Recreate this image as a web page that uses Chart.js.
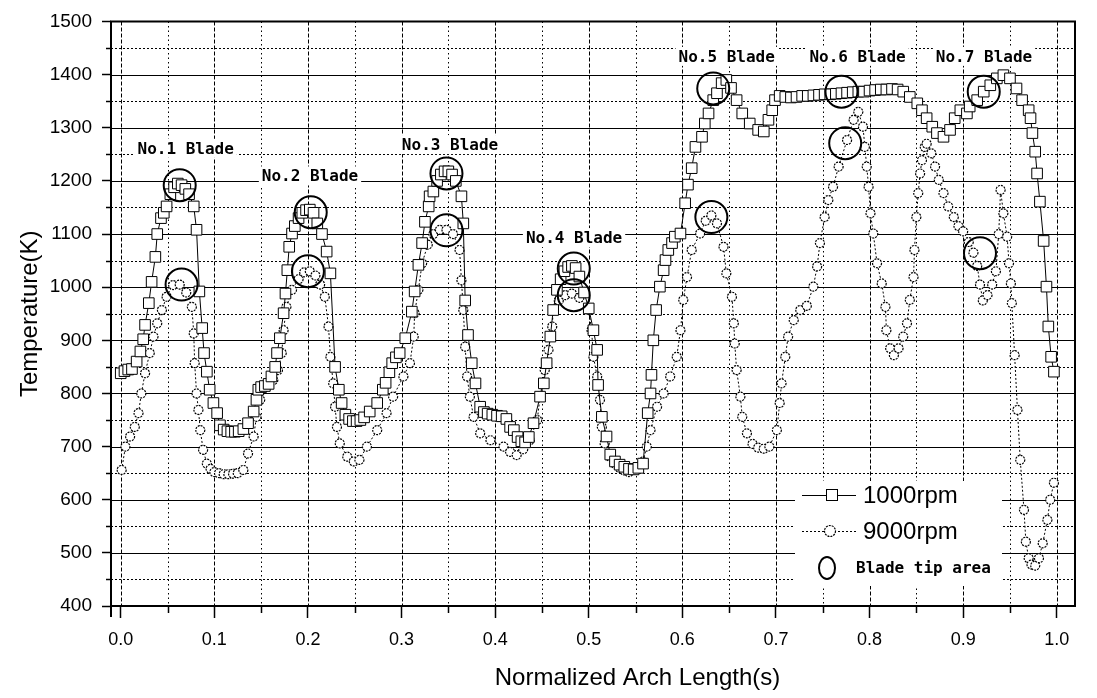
<!DOCTYPE html>
<html>
<head>
<meta charset="utf-8">
<title>Temperature along the blade arch</title>
<script src="https://cdn.jsdelivr.net/npm/chart.js@4.4.1/dist/chart.umd.min.js"></script>
<style>
  html, body { margin: 0; padding: 0; background: #fff; }
  #chart { display: block; }
</style>
</head>
<body>
<canvas id="chart" width="1097" height="698"></canvas>
<script>
// ========= data =========
const xTicks = [0.0, 0.1, 0.2, 0.3, 0.4, 0.5, 0.6, 0.7, 0.8, 0.9, 1.0];
const yTicks = [400, 500, 600, 700, 800, 900, 1000, 1100, 1200, 1300, 1400, 1500];

// 1000rpm (squares)
const rpm1000X = [0.000,0.004,0.008,0.012,0.017,0.021,0.024,0.026,0.030,0.033,
  0.037,0.039,0.043,0.046,0.049,0.053,0.057,0.061,0.065,0.069,
  0.073,0.078,0.081,0.084,0.087,0.089,0.092,0.095,0.099,0.103,
  0.106,0.110,0.114,0.118,0.122,0.126,0.131,0.136,0.142,0.145,
  0.147,0.150,0.154,0.158,0.161,0.165,0.167,0.170,0.174,0.176,
  0.178,0.180,0.183,0.186,0.190,0.194,0.198,0.202,0.206,0.210,
  0.215,0.220,0.224,0.229,0.233,0.236,0.240,0.244,0.248,0.252,
  0.256,0.260,0.266,0.274,0.280,0.283,0.287,0.290,0.294,0.298,
  0.304,0.311,0.314,0.318,0.322,0.325,0.329,0.330,0.334,0.338,
  0.342,0.346,0.350,0.354,0.358,0.364,0.366,0.368,0.371,0.375,
  0.379,0.384,0.388,0.392,0.397,0.402,0.407,0.412,0.416,0.420,
  0.424,0.428,0.432,0.436,0.441,0.448,0.452,0.455,0.459,0.462,
  0.466,0.470,0.474,0.478,0.482,0.486,0.490,0.495,0.500,0.505,
  0.509,0.510,0.514,0.519,0.523,0.528,0.533,0.538,0.543,0.548,
  0.553,0.558,0.563,0.566,0.567,0.569,0.572,0.576,0.580,0.582,
  0.585,0.589,0.592,0.598,0.603,0.606,0.610,0.614,0.621,0.624,
  0.628,0.633,0.637,0.642,0.647,0.652,0.658,0.664,0.672,0.681,
  0.687,0.692,0.696,0.699,0.704,0.710,0.716,0.722,0.728,0.734,
  0.740,0.746,0.752,0.758,0.764,0.770,0.776,0.782,0.788,0.794,
  0.800,0.806,0.812,0.818,0.824,0.830,0.836,0.843,0.851,0.856,
  0.861,0.867,0.872,0.879,0.886,0.891,0.897,0.904,0.907,0.915,
  0.922,0.929,0.936,0.943,0.950,0.957,0.963,0.970,0.972,0.974,
  0.977,0.979,0.982,0.986,0.989,0.991,0.994,0.997];
const rpm1000Y = [838,842,845,846,860,879,902,929,970,1010,
  1057,1100,1130,1140,1152,1175,1188,1195,1192,1185,
  1175,1152,1108,992,923,876,841,807,782,763,
  740,732,729,728,728,729,733,744,766,788,
  807,812,814,818,832,850,876,904,951,988,
  1032,1076,1101,1115,1130,1140,1145,1146,1140,1120,
  1100,1067,1026,850,807,782,760,752,748,748,
  750,755,766,782,807,820,840,857,868,876,
  904,954,992,1042,1083,1123,1152,1171,1180,1200,
  1212,1218,1218,1212,1200,1171,1120,975,910,857,
  819,775,765,762,760,758,757,752,737,731,
  718,710,708,718,744,794,819,857,907,957,
  995,1015,1030,1038,1040,1036,1020,990,960,919,
  882,816,756,719,685,672,666,662,658,657,
  660,668,763,800,835,900,957,1001,1032,1051,
  1070,1083,1095,1101,1158,1193,1224,1264,1283,1308,
  1327,1352,1365,1384,1390,1375,1352,1327,1308,1296,
  1293,1315,1333,1352,1360,1358,1357,1358,1360,1360,
  1361,1362,1363,1363,1364,1365,1366,1367,1368,1368,
  1370,1371,1372,1372,1373,1372,1368,1358,1346,1333,
  1318,1302,1290,1283,1296,1318,1333,1327,1340,1352,
  1368,1380,1393,1399,1393,1374,1352,1333,1318,1290,
  1255,1214,1161,1087,1001,926,869,841];

// 9000rpm (small circles)
const rpm9000X = [0.001,0.005,0.010,0.015,0.019,0.022,0.026,0.031,0.035,0.039,
  0.044,0.049,0.056,0.063,0.070,0.076,0.078,0.079,0.081,0.083,
  0.085,0.088,0.092,0.096,0.100,0.105,0.110,0.115,0.120,0.125,
  0.131,0.136,0.142,0.145,0.149,0.156,0.163,0.168,0.172,0.174,
  0.177,0.183,0.190,0.196,0.202,0.208,0.213,0.218,0.222,0.224,
  0.227,0.229,0.231,0.234,0.242,0.249,0.255,0.263,0.274,0.284,
  0.291,0.302,0.309,0.313,0.314,0.318,0.322,0.328,0.334,0.341,
  0.348,0.355,0.362,0.364,0.366,0.368,0.370,0.373,0.377,0.384,
  0.395,0.409,0.416,0.423,0.430,0.437,0.445,0.448,0.453,0.457,
  0.461,0.462,0.468,0.475,0.482,0.490,0.500,0.503,0.505,0.509,
  0.512,0.514,0.517,0.523,0.528,0.533,0.538,0.543,0.548,0.553,
  0.558,0.562,0.566,0.573,0.580,0.587,0.594,0.598,0.601,0.605,
  0.610,0.619,0.625,0.631,0.637,0.644,0.647,0.653,0.655,0.656,
  0.658,0.662,0.664,0.669,0.675,0.681,0.687,0.693,0.701,0.704,
  0.706,0.710,0.713,0.719,0.726,0.733,0.740,0.744,0.747,0.752,
  0.756,0.761,0.767,0.776,0.783,0.788,0.793,0.795,0.797,0.799,
  0.801,0.804,0.808,0.813,0.817,0.818,0.822,0.826,0.831,0.836,
  0.840,0.843,0.847,0.848,0.850,0.852,0.854,0.856,0.859,0.861,
  0.866,0.870,0.874,0.879,0.884,0.890,0.895,0.900,0.906,0.911,
  0.915,0.918,0.921,0.926,0.931,0.935,0.938,0.940,0.943,0.947,
  0.949,0.951,0.952,0.955,0.958,0.961,0.965,0.967,0.970,0.973,
  0.977,0.981,0.985,0.990,0.993,0.997];
const rpm9000Y = [656,700,719,737,763,800,838,876,907,932,
  957,982,1004,1005,990,963,913,857,800,769,
  731,694,668,658,652,650,648,648,649,650,
  656,687,719,756,788,813,825,844,876,919,
  963,995,1015,1028,1030,1022,1005,982,926,869,
  819,775,737,706,681,672,675,700,731,763,
  794,832,857,907,951,995,1045,1080,1100,1108,
  1108,1100,1070,1013,957,888,832,794,756,725,
  712,700,690,684,695,712,750,794,844,882,
  926,957,975,985,988,980,957,919,869,832,
  788,737,706,681,668,660,655,652,656,662,
  672,700,731,775,800,832,869,919,976,1019,
  1070,1101,1125,1135,1120,1076,1026,982,932,894,
  844,794,756,725,705,698,696,700,731,782,
  819,869,907,938,957,965,1001,1039,1083,1132,
  1164,1189,1227,1277,1315,1330,1302,1264,1227,1189,
  1139,1101,1045,1007,963,919,885,872,885,907,
  932,976,1019,1070,1132,1177,1214,1239,1264,1270,
  1252,1227,1202,1177,1152,1132,1115,1105,1085,1065,
  1040,1005,975,985,1005,1030,1100,1183,1139,1095,
  1045,1007,970,872,769,675,581,521,490,478,
  476,490,518,562,600,632];

// blade tip areas (big circles)
const tipX = [0.063, 0.065, 0.203, 0.200, 0.348, 0.348, 0.484, 0.484, 0.633, 0.631, 0.770, 0.774, 0.922, 0.918];
const tipY = [1192, 1005, 1141, 1030, 1214, 1107, 1035, 985, 1374, 1132, 1368, 1271, 1368, 1064];

const bladeNames = ['No.1 Blade', 'No.2 Blade', 'No.3 Blade', 'No.4 Blade', 'No.5 Blade', 'No.6 Blade', 'No.7 Blade'];

// ========= layout =========
const SANS = '"Liberation Sans", Arial, sans-serif';
const MONO = '"DejaVu Sans Mono", monospace';
// label anchors (text centre, baseline) in axis units
const bladeAnchors = [[0.0694, 1251], [0.2022, 1199], [0.3518, 1258], [0.4843, 1083],
                      [0.6474, 1424], [0.7872, 1424], [0.9223, 1424]];
const LEGEND = { left: 795, top: 481, right: 1002, bottom: 586 };

const toPts = (xs, ys) => xs.map((x, i) => ({ x, y: ys[i] }));
const px = v => Math.round(v) + 0.5;

function hLine(ctx, a, y) { ctx.beginPath(); ctx.moveTo(a.left, px(y)); ctx.lineTo(a.right, px(y)); ctx.stroke(); }
function vLine(ctx, a, x) { ctx.beginPath(); ctx.moveTo(px(x), a.top); ctx.lineTo(px(x), a.bottom); ctx.stroke(); }

// ========= plugin: paper grid, frame, labels, legend =========
const paper = {
  id: 'paper',
  beforeDatasetsDraw(chart) {
    const { ctx, chartArea: a, scales: { x, y } } = chart;
    ctx.save();
    ctx.strokeStyle = '#000';
    ctx.lineWidth = 1;
    ctx.setLineDash([2, 2]);
    for (let v = 450; v < 1500; v += 100) hLine(ctx, a, y.getPixelForValue(v));
    ctx.setLineDash([]);
    ctx.lineWidth = 1.2;
    yTicks.slice(1, -1).forEach(v => hLine(ctx, a, y.getPixelForValue(v)));
    ctx.lineWidth = 1;
    ctx.setLineDash([1.5, 3]);
    for (let v = 0.05; v < 1; v += 0.1) vLine(ctx, a, x.getPixelForValue(v));
    ctx.setLineDash([4, 2]);
    xTicks.forEach(v => vLine(ctx, a, x.getPixelForValue(v)));
    ctx.setLineDash([]);

    // white boxes under legend and blade labels
    ctx.fillStyle = '#fff';
    ctx.fillRect(LEGEND.left, LEGEND.top, LEGEND.right - LEGEND.left, LEGEND.bottom - LEGEND.top);
    ctx.font = `bold 16px ${MONO}`;
    bladeNames.forEach((t, i) => {
      const cx = x.getPixelForValue(bladeAnchors[i][0]);
      const by = y.getPixelForValue(bladeAnchors[i][1]);
      const w = ctx.measureText(t).width;
      ctx.fillRect(cx - w / 2 - 3, by - 15, w + 6, 19);
    });
    ctx.restore();
  },
  beforeDatasetDraw(chart, args) {
    if (chart.data.datasets[args.index].label === '9000rpm') {
      chart.ctx.save();
      chart.ctx.setLineDash([2, 1]);   // dotted marker outlines
    }
  },
  afterDatasetDraw(chart, args) {
    if (chart.data.datasets[args.index].label === '9000rpm') chart.ctx.restore();
  },
  afterDatasetsDraw(chart) {
    const { ctx, chartArea: a, scales: { x, y } } = chart;
    ctx.save();
    ctx.strokeStyle = '#000';
    ctx.fillStyle = '#000';

    // frame
    ctx.lineWidth = 2;
    ctx.beginPath();
    ctx.moveTo(a.left, a.bottom + 11);
    ctx.lineTo(a.left, a.top);
    ctx.lineTo(a.right, a.top);
    ctx.lineTo(a.right, a.bottom);
    ctx.lineTo(a.left, a.bottom);
    ctx.stroke();

    // minor ticks
    ctx.lineWidth = 1.5;
    for (let v = 450; v < 1500; v += 100) {
      const py = px(y.getPixelForValue(v));
      ctx.beginPath(); ctx.moveTo(a.left - 5, py); ctx.lineTo(a.left, py); ctx.stroke();
    }
    for (let v = 0.05; v < 1; v += 0.1) {
      const pxl = px(x.getPixelForValue(v));
      ctx.beginPath(); ctx.moveTo(pxl, a.bottom); ctx.lineTo(pxl, a.bottom + 7); ctx.stroke();
    }

    // blade labels
    ctx.font = `bold 16px ${MONO}`;
    ctx.textAlign = 'center';
    ctx.textBaseline = 'alphabetic';
    bladeNames.forEach((t, i) => {
      ctx.fillText(t, x.getPixelForValue(bladeAnchors[i][0]), y.getPixelForValue(bladeAnchors[i][1]));
    });

    // legend
    ctx.textAlign = 'left';
    ctx.textBaseline = 'middle';
    ctx.lineWidth = 1;
    ctx.beginPath(); ctx.moveTo(802, 495.5); ctx.lineTo(856, 495.5); ctx.stroke();
    ctx.fillStyle = '#fff';
    ctx.fillRect(826.5, 489.5, 11, 11);
    ctx.strokeRect(826.5, 489.5, 11, 11);
    ctx.setLineDash([2, 2]);
    ctx.beginPath(); ctx.moveTo(802, 531.5); ctx.lineTo(856, 531.5); ctx.stroke();
    ctx.setLineDash([2, 1]);
    ctx.lineWidth = 1.2;
    ctx.beginPath(); ctx.arc(830, 531, 5.5, 0, Math.PI * 2); ctx.fill(); ctx.stroke();
    ctx.setLineDash([]);
    ctx.lineWidth = 2;
    ctx.beginPath(); ctx.ellipse(827, 568, 8, 11, 0, 0, Math.PI * 2); ctx.stroke();
    ctx.fillStyle = '#000';
    ctx.font = `24px ${SANS}`;
    ctx.fillText('1000rpm', 863, 496);
    ctx.fillText('9000rpm', 863, 532);
    ctx.font = `bold 16px ${MONO}`;
    ctx.fillText('Blade tip area', 856, 569);

    // x title
    ctx.font = `24px ${SANS}`;
    ctx.textAlign = 'center';
    ctx.textBaseline = 'alphabetic';
    ctx.fillText('Normalized Arch Length(s)', 637.5, 685);
    ctx.restore();
  }
};

// ========= chart =========
new Chart(document.getElementById('chart').getContext('2d'), {
  type: 'scatter',
  data: {
    datasets: [
      {
        label: 'Blade tip area',
        data: toPts(tipX, tipY),
        showLine: false,
        pointRadius: 16,
        pointBorderWidth: 2,
        pointBorderColor: '#000',
        pointBackgroundColor: 'rgba(0,0,0,0)',
        order: 0
      },
      {
        label: '1000rpm',
        data: toPts(rpm1000X, rpm1000Y),
        showLine: true,
        borderColor: '#000',
        borderWidth: 1,
        pointStyle: 'rect',
        pointRadius: 7.5,
        pointBorderWidth: 1,
        pointBorderColor: '#000',
        pointBackgroundColor: '#fff',
        order: 1
      },
      {
        label: '9000rpm',
        data: toPts(rpm9000X, rpm9000Y),
        showLine: true,
        borderColor: '#000',
        borderWidth: 1,
        borderDash: [2, 2],
        pointStyle: 'circle',
        pointRadius: 4.5,
        pointBorderWidth: 1.2,
        pointBorderColor: '#000',
        pointBackgroundColor: '#fff',
        order: 2
      }
    ]
  },
  options: {
    responsive: false,
    animation: false,
    events: [],
    layout: { padding: { top: 21.5, right: 22, left: 0, bottom: 0 } },
    plugins: { legend: { display: false }, tooltip: { enabled: false } },
    scales: {
      x: {
        type: 'linear',
        min: -0.0104,
        max: 1.0195,
        afterBuildTicks: s => { s.ticks = xTicks.map(v => ({ value: v })); },
        afterFit: s => { s.height = 92; },
        ticks: {
          callback: v => Number(v).toFixed(1),
          color: '#000',
          font: { family: SANS, size: 18 },
          padding: 11,
          maxRotation: 0
        },
        grid: { display: true, drawOnChartArea: false, drawTicks: true, tickLength: 12, tickWidth: 1.5, tickColor: '#000' },
        border: { display: false }
      },
      y: {
        type: 'linear',
        min: 400,
        max: 1500,
        afterBuildTicks: s => { s.ticks = yTicks.map(v => ({ value: v })); },
        afterFit: s => { s.width = 111; },
        ticks: {
          callback: v => String(v),
          color: '#000',
          font: { family: SANS, size: 19 },
          padding: 10
        },
        grid: { display: true, drawOnChartArea: false, drawTicks: true, tickLength: 9, tickWidth: 1.5, tickColor: '#000' },
        border: { display: false },
        title: {
          display: true,
          text: 'Temperature(K)',
          color: '#000',
          font: { family: SANS, size: 24, weight: 'normal' },
          padding: { top: 16, bottom: 0 }
        }
      }
    }
  },
  plugins: [paper]
});
</script>
</body>
</html>
